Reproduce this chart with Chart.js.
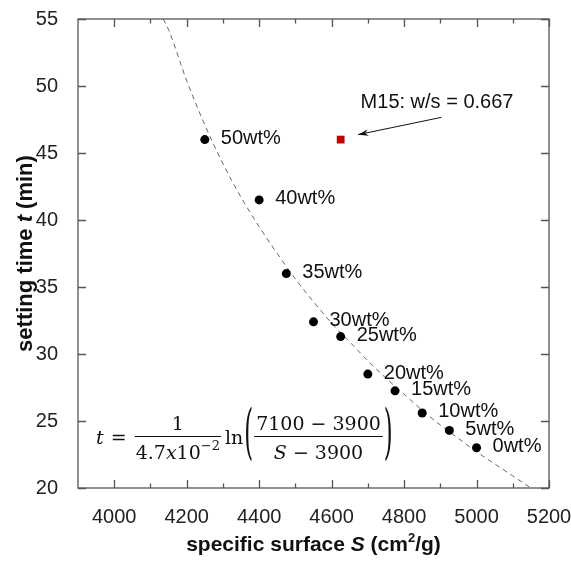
<!DOCTYPE html>
<html>
<head>
<meta charset="utf-8">
<script src="https://cdn.jsdelivr.net/npm/chart.js@4.4.1/dist/chart.umd.min.js"></script>
<style>
  html, body { margin: 0; padding: 0; background: #fff; }
  canvas { display: block; }
</style>
</head>
<body>
<canvas id="chart" width="571" height="561"></canvas>
<script>
const SANS = "'Liberation Sans', Arial, sans-serif";
const SERIF = "'DejaVu Serif', serif";

// cement mixes (replacement level)
const mixLabels = ["50wt%", "40wt%", "35wt%", "30wt%", "25wt%", "20wt%", "15wt%", "10wt%", "5wt%", "0wt%"];
const mixS = [4250, 4400, 4475, 4550, 4625, 4700, 4775, 4850, 4925, 5000];
const mixT = [46.0, 41.5, 36.0, 32.4, 31.3, 28.5, 27.25, 25.6, 24.3, 23.0];

// M15 mortar
const m15S = [4625];
const m15T = [46.0];
const m15Note = "M15: w/s = 0.667";

// fitted curve
const curveS = [4135, 4150, 4200, 4250, 4300, 4350, 4400, 4450, 4500, 4550, 4600, 4650, 4700, 4750, 4800, 4850, 4900, 4950, 5000, 5050, 5100, 5150];
const curveT = [55.0, 54.2, 50.4, 47.1, 44.2, 41.7, 39.5, 37.5, 35.6, 33.9, 32.3, 30.9, 29.5, 28.2, 27.0, 25.8, 24.7, 23.7, 22.7, 21.8, 20.9, 20.0];

const xTickVals = [4000, 4200, 4400, 4600, 4800, 5000, 5200];
const xMinorVals = [4100, 4300, 4500, 4700, 4900, 5100];
const yTickVals = [20, 25, 30, 35, 40, 45, 50, 55];

// annotation anchors in data units
const noteAt = [4680, 48.76];
const arrowFrom = [4903, 47.66];
const arrowTo = [4673, 46.37];
const formulaAt = [3950, 23.85];

const toXY = (xs, ys) => xs.map((x, i) => ({ x, y: ys[i] }));

const frameTicks = {
  id: "frameTicks",
  afterDraw(chart) {
    const { ctx, chartArea: a, scales: { x, y } } = chart;
    ctx.save();
    ctx.strokeStyle = "#555";
    ctx.lineWidth = 1.3;
    ctx.strokeRect(a.left, a.top, a.right - a.left, a.bottom - a.top);
    ctx.beginPath();
    const xt = (vals, len) => vals.forEach(v => {
      const px = Math.round(x.getPixelForValue(v)) + 0.5;
      ctx.moveTo(px, a.bottom); ctx.lineTo(px, a.bottom - len);
      ctx.moveTo(px, a.top); ctx.lineTo(px, a.top + len);
    });
    xt(xTickVals, 8);
    xt(xMinorVals, 4.5);
    yTickVals.forEach(v => {
      const py = Math.round(y.getPixelForValue(v)) + 0.5;
      ctx.moveTo(a.left, py); ctx.lineTo(a.left + 8, py);
      ctx.moveTo(a.right, py); ctx.lineTo(a.right - 8, py);
    });
    ctx.stroke();
    ctx.restore();
  }
};

// draw runs of text with mixed styles; returns total width
function runs(ctx, parts, x, y, draw) {
  let cx = x;
  for (const p of parts) {
    ctx.font = p.font;
    if (draw) ctx.fillText(p.t, cx, y + (p.dy || 0));
    cx += ctx.measureText(p.t).width;
  }
  return cx - x;
}

const axisTitles = {
  id: "axisTitles",
  afterDraw(chart) {
    const { ctx, chartArea: a } = chart;
    ctx.save();
    ctx.fillStyle = "#111";
    ctx.textBaseline = "alphabetic";
    const b = `bold 21px ${SANS}`, bi = `bold italic 21px ${SANS}`, bs = `bold 13px ${SANS}`;
    const xParts = [
      { t: "specific surface ", font: b }, { t: "S", font: bi },
      { t: " (cm", font: b }, { t: "2", font: bs, dy: -9 }, { t: "/g)", font: b }
    ];
    const xw = runs(ctx, xParts, 0, 0, false);
    runs(ctx, xParts, (a.left + a.right) / 2 - xw / 2, 551, true);

    const yb = `bold 22px ${SANS}`, ybi = `bold italic 22px ${SANS}`;
    const yParts = [
      { t: "setting time ", font: yb }, { t: "t", font: ybi }, { t: " (min)", font: yb }
    ];
    const yw = runs(ctx, yParts, 0, 0, false);
    ctx.translate(32, (a.top + a.bottom) / 2);
    ctx.rotate(-Math.PI / 2);
    runs(ctx, yParts, -yw / 2, 0, true);
    ctx.restore();
  }
};

const pointNotes = {
  id: "pointNotes",
  afterDatasetsDraw(chart) {
    const { ctx, scales: { x, y } } = chart;
    ctx.save();
    ctx.fillStyle = "#111";
    ctx.font = `20px ${SANS}`;
    ctx.textBaseline = "middle";
    chart.getDatasetMeta(1).data.forEach((el, i) => {
      ctx.fillText(mixLabels[i], el.x + 16, el.y - 1);
    });

    ctx.fillText(m15Note, x.getPixelForValue(noteAt[0]), y.getPixelForValue(noteAt[1]));

    // arrow to the M15 point
    const x1 = x.getPixelForValue(arrowFrom[0]), y1 = y.getPixelForValue(arrowFrom[1]);
    const x2 = x.getPixelForValue(arrowTo[0]), y2 = y.getPixelForValue(arrowTo[1]);
    const ang = Math.atan2(y2 - y1, x2 - x1);
    ctx.strokeStyle = "#111";
    ctx.lineWidth = 1;
    ctx.beginPath();
    ctx.moveTo(x1, y1);
    ctx.lineTo(x2, y2);
    ctx.stroke();
    ctx.beginPath();
    ctx.moveTo(x2, y2);
    ctx.lineTo(x2 - 11 * Math.cos(ang - 0.3), y2 - 11 * Math.sin(ang - 0.3));
    ctx.lineTo(x2 - 7 * Math.cos(ang), y2 - 7 * Math.sin(ang));
    ctx.lineTo(x2 - 11 * Math.cos(ang + 0.3), y2 - 11 * Math.sin(ang + 0.3));
    ctx.closePath();
    ctx.fillStyle = "#111";
    ctx.fill();
    ctx.restore();
  }
};

const formula = {
  id: "formula",
  afterDraw(chart) {
    const { ctx, scales: { x, y } } = chart;
    const fs = 19;
    const n = `${fs}px ${SERIF}`, it = `italic ${fs}px ${SERIF}`, sm = `13px ${SERIF}`;
    const x0 = x.getPixelForValue(formulaAt[0]);
    const bar = Math.round(y.getPixelForValue(formulaAt[1])) + 0.5;
    const base = bar + 7;
    const numBase = bar - 7, denBase = bar + 22;
    ctx.save();
    ctx.fillStyle = "#111";
    ctx.strokeStyle = "#111";
    ctx.lineWidth = 1;
    ctx.textBaseline = "alphabetic";
    let cx = x0;
    cx += runs(ctx, [{ t: "t", font: it }], cx, base, true) + 7;
    cx += runs(ctx, [{ t: "=", font: n }], cx, base, true) + 8;

    // 1 / 4.7x10^-2
    const num1 = [{ t: "1", font: n }];
    const den1 = [{ t: "4.7", font: n }, { t: "x", font: it }, { t: "10", font: n }, { t: "\u22122", font: sm, dy: -9 }];
    let nw = runs(ctx, num1, 0, 0, false), dw = runs(ctx, den1, 0, 0, false);
    let fw = Math.max(nw, dw) + 2;
    runs(ctx, num1, cx + (fw - nw) / 2, numBase, true);
    runs(ctx, den1, cx + (fw - dw) / 2, denBase, true);
    ctx.beginPath(); ctx.moveTo(cx, bar); ctx.lineTo(cx + fw, bar); ctx.stroke();
    cx += fw + 4;

    cx += runs(ctx, [{ t: "ln", font: n }], cx, base, true) + 1;

    const paren = (ch) => {
      ctx.save();
      ctx.font = n;
      ctx.textBaseline = "middle";
      ctx.translate(cx, bar + 4);
      ctx.scale(1.2, 3.1);
      ctx.fillText(ch, 0, -1.2);
      const w = ctx.measureText(ch).width * 1.2;
      ctx.restore();
      return w;
    };
    cx += paren("(") + 1;

    const num2 = [{ t: "7100 \u2212 3900", font: n }];
    const den2 = [{ t: "S", font: it }, { t: " \u2212 3900", font: n }];
    nw = runs(ctx, num2, 0, 0, false); dw = runs(ctx, den2, 0, 0, false);
    fw = Math.max(nw, dw) + 4;
    runs(ctx, num2, cx + (fw - nw) / 2, numBase, true);
    runs(ctx, den2, cx + (fw - dw) / 2, denBase, true);
    ctx.beginPath(); ctx.moveTo(cx, bar); ctx.lineTo(cx + fw, bar); ctx.stroke();
    cx += fw + 1;
    paren(")");
    ctx.restore();
  }
};

const tickFont = { family: SANS, size: 20 };

new Chart(document.getElementById("chart"), {
  type: "scatter",
  data: {
    datasets: [
      {
        label: "fit",
        data: toXY(curveS, curveT),
        showLine: true,
        cubicInterpolationMode: "monotone",
        borderColor: "#666",
        borderWidth: 1,
        borderDash: [5, 4],
        pointRadius: 0,
        order: 3,
      },
      {
        label: "mixes",
        data: toXY(mixS, mixT),
        pointRadius: 4.5,
        pointBackgroundColor: "#000",
        pointBorderWidth: 0,
        order: 1,
      },
      {
        label: "M15",
        data: toXY(m15S, m15T),
        pointStyle: "rect",
        pointRadius: 5.5,
        pointBackgroundColor: "#c00000",
        pointBorderWidth: 0,
        order: 2,
      },
    ],
  },
  options: {
    responsive: false,
    devicePixelRatio: 1,
    animation: false,
    events: [],
    layout: { padding: { top: 19, right: 22, left: 0, bottom: 0 } },
    plugins: { legend: { display: false }, tooltip: { enabled: false } },
    scales: {
      x: {
        type: "linear",
        min: 3900,
        max: 5200,
        grid: { display: false },
        border: { display: false },
        ticks: { font: tickFont, color: "#222", padding: 9, maxRotation: 0, callback: v => String(v) },
        afterBuildTicks: s => { s.ticks = xTickVals.map(v => ({ value: v })); },
        afterFit: s => { s.height = 73; s.paddingLeft = 0; s.paddingRight = 0; },
      },
      y: {
        type: "linear",
        min: 20,
        max: 55,
        grid: { display: false },
        border: { display: false },
        ticks: { font: tickFont, color: "#222", padding: 12, callback: v => String(v) },
        afterBuildTicks: s => { s.ticks = yTickVals.map(v => ({ value: v })); },
        afterFit: s => { s.width = 78; s.paddingTop = 0; s.paddingBottom = 0; },
      },
    },
  },
  plugins: [frameTicks, axisTitles, pointNotes, formula],
});
</script>
</body>
</html>
